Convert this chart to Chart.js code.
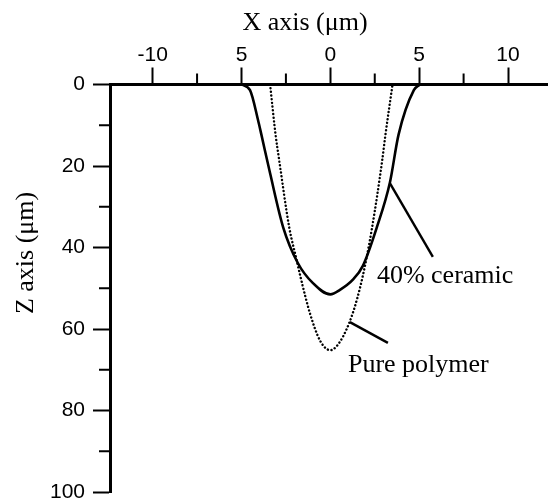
<!DOCTYPE html>
<html lang="en">
<head>
  <meta charset="UTF-8">
  <title>Indent profile</title>
  <script src="https://cdn.jsdelivr.net/npm/chart.js"></script>
  <style>
    html, body { margin: 0; padding: 0; background: #fff; }
    #wrap { width: 548px; height: 501px; }
  </style>
</head>
<body>
  <div id="wrap"><canvas id="profileChart" width="548" height="501"></canvas></div>

  <script>
    // values (x in um, z depth in um)
    const ceramicX = [-5, -4.52, -4.07, -3.88, -3.39, -2.65, -1.83, -0.99, 0, 0.54, 1.27, 1.83, 2.62, 3.35, 3.84, 4.7, 5.05];
    const ceramicZ = [0, 1.4, 8.7, 12.3, 21.8, 35.1, 43.8, 48.7, 51.5, 50.4, 47.9, 44.5, 35, 24.1, 12.3, 1.4, 0];

    const polymerX = [-3.39, -3.08, -2.88, -2.32, -1.9, -1.69, -1.13, -0.56, 0, 0.56, 1.24, 1.8, 2.35, 2.92, 3.1, 3.5];
    const polymerZ = [0, 12.4, 18.5, 34.9, 43, 47, 56.4, 63, 65.2, 63, 56.4, 47.5, 35.1, 18.6, 12.4, 0];

    // leader lines from curve to label
    const ceramicLeaderX = [3.35, 5.77];
    const ceramicLeaderZ = [24.2, 42.3];
    const polymerLeaderX = [1.1, 3.24];
    const polymerLeaderZ = [58.3, 63.4];

    const xMajor = [-10, -5, 0, 5, 10];
    const xTickLabels = ['-10', '5', '0', '5', '10'];
    const xMinor = [-7.5, -2.5, 2.5, 7.5];
    const zMajor = [0, 20, 40, 60, 80, 100];
    const zTickLabels = ['0', '20', '40', '60', '80', '100'];
    const zMinor = [10, 30, 50, 70, 90];

    const seriesNames = ['40% ceramic', 'Pure polymer'];

    const toPoints = (xs, zs) => xs.map((x, i) => ({ x: x, y: zs[i] }));

    const serif = 'Liberation Serif, Times New Roman, serif';
    const sans = 'Liberation Sans, Arial, sans-serif';

    // short ticks between the labelled ones + axis titles + curve labels
    const extras = {
      id: 'extras',
      afterDraw(chart) {
        const ctx = chart.ctx;
        const xs = chart.scales.x, ys = chart.scales.y;
        const area = chart.chartArea;
        ctx.save();
        ctx.strokeStyle = '#000';
        ctx.lineWidth = 2;
        ctx.beginPath();
        xMinor.forEach(v => {
          const px = xs.getPixelForValue(v);
          ctx.moveTo(px, area.top);
          ctx.lineTo(px, area.top - 11);
        });
        zMinor.forEach(v => {
          const py = ys.getPixelForValue(v);
          ctx.moveTo(area.left, py);
          ctx.lineTo(area.left - 11, py);
        });
        ctx.stroke();

        ctx.fillStyle = '#000';
        ctx.font = '26px ' + serif;
        ctx.textBaseline = 'alphabetic';
        ctx.textAlign = 'center';
        ctx.fillText('X axis (\u03bcm)', 305, 30);

        ctx.save();
        ctx.translate(33, 253);
        ctx.rotate(-Math.PI / 2);
        ctx.fillText('Z axis (\u03bcm)', 0, 0);
        ctx.restore();

        ctx.textAlign = 'left';
        ctx.fillText(seriesNames[0], xs.getPixelForValue(2.62), ys.getPixelForValue(48.7));
        ctx.fillText(seriesNames[1], xs.getPixelForValue(0.99), ys.getPixelForValue(70.5));
        ctx.restore();
      }
    };

    new Chart(document.getElementById('profileChart'), {
      type: 'line',
      data: {
        datasets: [
          {
            label: seriesNames[0],
            data: toPoints(ceramicX, ceramicZ),
            borderColor: '#000',
            borderWidth: 2.6,
            pointRadius: 0,
            cubicInterpolationMode: 'monotone',
            fill: false
          },
          {
            label: seriesNames[1],
            data: toPoints(polymerX, polymerZ),
            borderColor: '#000',
            borderWidth: 2.4,
            borderDash: [0.1, 3.6],
            borderCapStyle: 'round',
            pointRadius: 0,
            cubicInterpolationMode: 'monotone',
            fill: false
          },
          {
            label: 'leader1',
            data: toPoints(ceramicLeaderX, ceramicLeaderZ),
            borderColor: '#000',
            borderWidth: 2.4,
            pointRadius: 0,
            tension: 0
          },
          {
            label: 'leader2',
            data: toPoints(polymerLeaderX, polymerLeaderZ),
            borderColor: '#000',
            borderWidth: 2.4,
            pointRadius: 0,
            tension: 0
          }
        ]
      },
      options: {
        responsive: false,
        animation: false,
        layout: { padding: { left: 0, right: 0, top: 0, bottom: 9 } },
        plugins: {
          legend: { display: false },
          tooltip: { enabled: false }
        },
        scales: {
          x: {
            type: 'linear',
            position: 'top',
            min: -12.4,
            max: 12.25,
            afterBuildTicks: s => { s.ticks = xMajor.map(v => ({ value: v })); },
            afterFit: s => { s.height = 84.5; s.paddingLeft = 0; s.paddingRight = 0; },
            ticks: {
              color: '#000',
              padding: 0,
              font: { family: sans, size: 21 },
              callback: (v, i) => xTickLabels[i]
            },
            grid: {
              drawOnChartArea: false,
              drawTicks: true,
              tickLength: 17,
              tickWidth: 2,
              tickColor: '#000'
            },
            border: { display: true, color: '#000', width: 3 }
          },
          y: {
            type: 'linear',
            position: 'left',
            reverse: true,
            min: 0,
            max: 100,
            afterBuildTicks: s => { s.ticks = zMajor.map(v => ({ value: v })); },
            afterFit: s => { s.width = 110; s.paddingTop = 0; s.paddingBottom = 0; },
            ticks: {
              color: '#000',
              padding: 8,
              font: { family: sans, size: 21 },
              callback: (v, i) => zTickLabels[i]
            },
            grid: {
              drawOnChartArea: false,
              drawTicks: true,
              tickLength: 17,
              tickWidth: 2,
              tickColor: '#000'
            },
            border: { display: true, color: '#000', width: 3 }
          }
        }
      },
      plugins: [extras]
    });
  </script>
</body>
</html>
